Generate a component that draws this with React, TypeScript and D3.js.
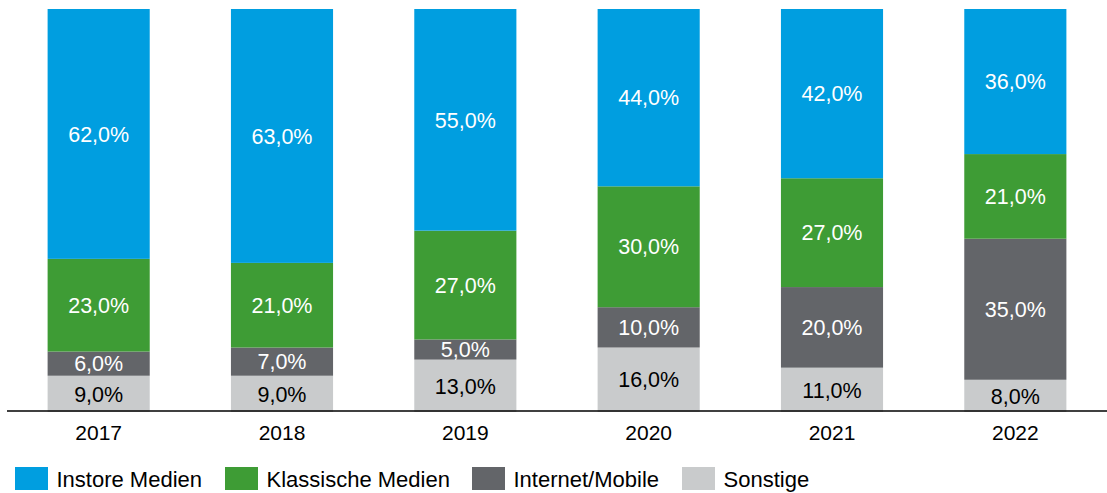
import React from "react";
import * as d3 from "d3";

const years = ["2017", "2018", "2019", "2020", "2021", "2022"];
const seriesNames = ["Sonstige", "Internet/Mobile", "Klassische Medien", "Instore Medien"];
const sonstige = [9, 9, 13, 16, 11, 8];
const internetMobile = [6, 7, 5, 10, 20, 35];
const klassische = [23, 21, 27, 30, 27, 21];
const instore = [62, 63, 55, 44, 42, 36];
const colors = ["#C9CBCC", "#636569", "#3E9C35", "#009EE0"];
const labelColors = ["#000000", "#ffffff", "#ffffff", "#ffffff"];
const legendOrder = ["Instore Medien", "Klassische Medien", "Internet/Mobile", "Sonstige"];
const legendX = [15, 225, 472, 682];

const W = 1107;
const H = 493;

export default function App() {
  const x = d3.scaleBand<string>().domain(years).range([7, 1107]).paddingInner(0.443).paddingOuter(0.2215);
  const y = d3.scaleLinear().domain([0, 100]).range([412, 9]);
  const rows = years.map((yr, i) => ({
    year: yr,
    "Sonstige": sonstige[i],
    "Internet/Mobile": internetMobile[i],
    "Klassische Medien": klassische[i],
    "Instore Medien": instore[i],
  }));
  const stack = d3.stack<any>().keys(seriesNames)(rows);
  const font = "'Liberation Sans', Arial, sans-serif";
  const fmt = (v: number) => v.toFixed(1).replace(".", ",") + "%";

  return (
    <svg width={W} height={H} style={{ position: "absolute", left: 0, top: 0 }}>
      {stack.map((layer, si) => (
        <g key={seriesNames[si]}>
          {layer.map((d, i) => {
            const x0 = x(years[i])!;
            const y0 = y(d[1]);
            const y1 = y(d[0]);
            const v = d[1] - d[0];
            return (
              <g key={i}>
                <rect x={x0} y={y0} width={x.bandwidth()} height={y1 - y0} fill={colors[si]} />
                <text
                  x={x0 + x.bandwidth() / 2}
                  y={(y0 + y1) / 2 + 7.7}
                  textAnchor="middle"
                  fontFamily={font}
                  fontSize={21.5}
                  fill={labelColors[si]}
                >
                  {fmt(v)}
                </text>
              </g>
            );
          })}
        </g>
      ))}
      <line x1={7} x2={1107} y1={411} y2={411} stroke="#000" strokeWidth={1.5} />
      {years.map((yr) => (
        <text
          key={yr}
          x={x(yr)! + x.bandwidth() / 2}
          y={440}
          textAnchor="middle"
          fontFamily={font}
          fontSize={21}
          fill="#000"
        >
          {yr}
        </text>
      ))}
      {legendOrder.map((name, i) => {
        const si = seriesNames.indexOf(name);
        return (
          <g key={name}>
            <rect x={legendX[i]} y={467} width={33} height={23} fill={colors[si]} />
            <text x={legendX[i] + 41.5} y={487} fontFamily={font} fontSize={22} fill="#000">
              {name}
            </text>
          </g>
        );
      })}
    </svg>
  );
}
